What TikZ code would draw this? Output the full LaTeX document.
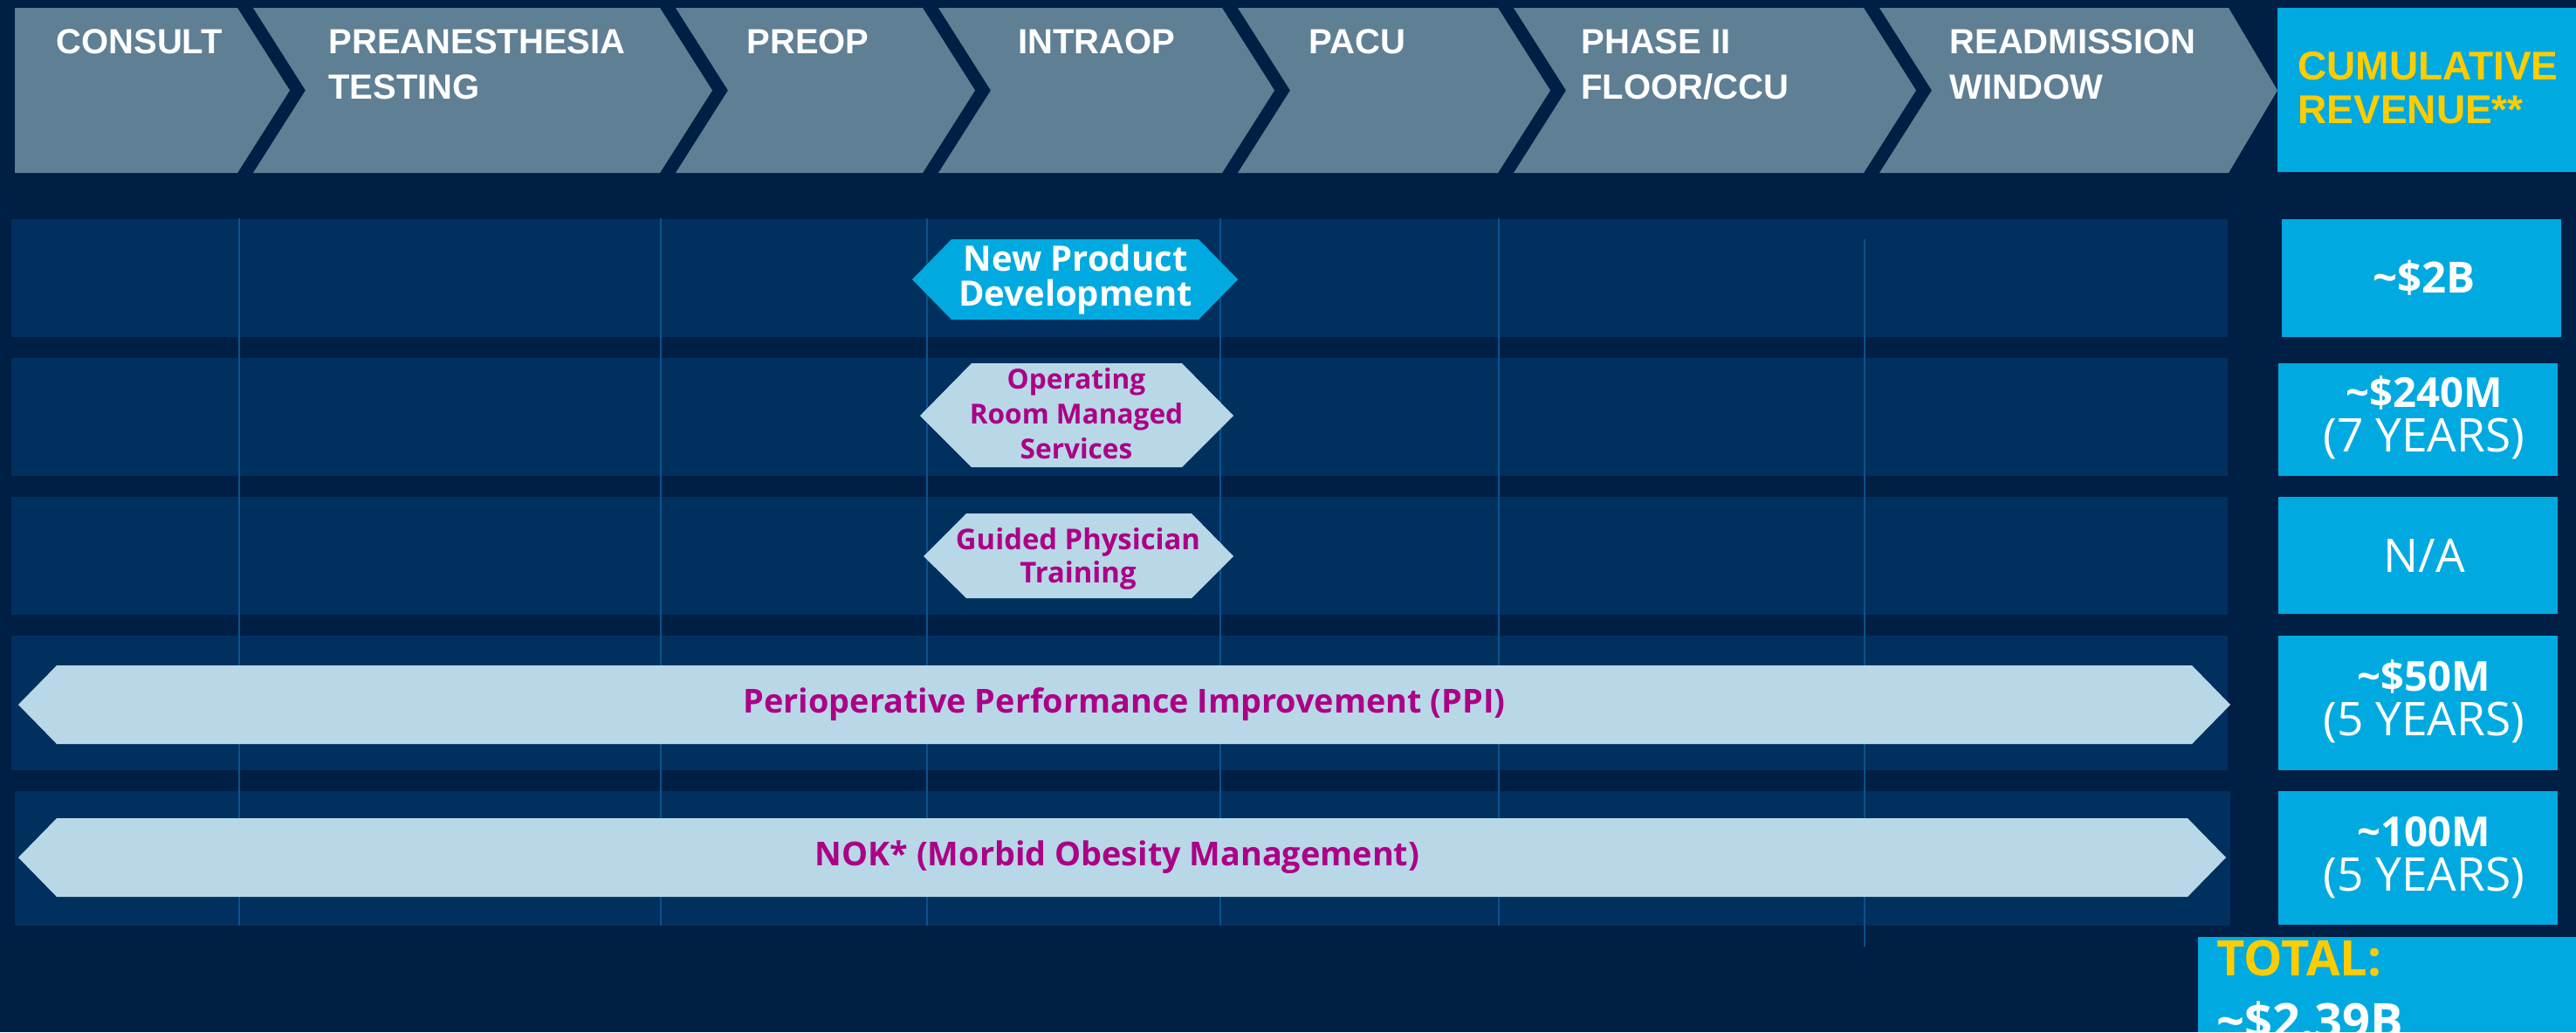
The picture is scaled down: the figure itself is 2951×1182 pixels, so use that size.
\documentclass[tikz,border=0pt]{standalone}
\usepackage{fontspec}
\setmainfont{Open Sans}
\newfontfamily\phasefont{Liberation Sans}
\newcommand\labelfont{\bfseries}

\definecolor{navybg}{RGB}{0,31,69}
\definecolor{rowblue}{RGB}{0,48,94}
\definecolor{chevgrey}{RGB}{94,127,148}
\definecolor{cyanbox}{RGB}{0,170,224}
\definecolor{paleblue}{RGB}{184,216,232}
\definecolor{plum}{RGB}{172,0,134}
\definecolor{gold}{RGB}{255,204,0}
\definecolor{gridblue}{RGB}{12,82,142}

\tikzset{every picture/.style={line width=0.75pt}}

\begin{document}
\begin{tikzpicture}[x=0.25pt,y=0.25pt,yscale=-1,xscale=1,
    chevron/.style={fill=chevgrey},
    band/.style={fill=rowblue},
    gridline/.style={draw=gridblue,line width=0.6pt},
    hexdark/.style={fill=cyanbox},
    hexlight/.style={fill=paleblue},
    revbox/.style={fill=cyanbox},
    phase/.style={anchor=north west,inner sep=0pt,align=left,text=white,font=\phasefont\fontsize{10}{13}\selectfont\bfseries},
    initiative/.style={inner sep=0pt,align=center,text=plum,font=\labelfont},
    revenue/.style={inner sep=0pt,align=center,text=white,font=\fontsize{13.3}{12.75}\selectfont}]

    \useasboundingbox (0,0) rectangle (2951,1182);
    %Shape: Rectangle [backdrop]
    \fill [navybg] (0,0) rectangle (2951,1182);

    %Shape: Chevrons [phase strip]
    \fill [chevron] (17,9) -- (272,9) -- (332,103.5) -- (272,198) -- (17,198) -- cycle ;
    \fill [chevron] (290,9) -- (756,9) -- (816,103.5) -- (756,198) -- (290,198) -- (350,103.5) -- cycle ;
    \fill [chevron] (774,9) -- (1057,9) -- (1117,103.5) -- (1057,198) -- (774,198) -- (834,103.5) -- cycle ;
    \fill [chevron] (1075,9) -- (1400,9) -- (1460,103.5) -- (1400,198) -- (1075,198) -- (1135,103.5) -- cycle ;
    \fill [chevron] (1418,9) -- (1716,9) -- (1776,103.5) -- (1716,198) -- (1418,198) -- (1478,103.5) -- cycle ;
    \fill [chevron] (1734,9) -- (2135,9) -- (2195,103.5) -- (2135,198) -- (1734,198) -- (1794,103.5) -- cycle ;
    \fill [chevron] (2153,9) -- (2553,9) -- (2609,103.5) -- (2553,198) -- (2153,198) -- (2213,103.5) -- cycle ;
    %Shape: Rectangle [revenue header]
    \fill [revbox] (2609,9) rectangle (2951,197) ;

    %Shape: Rectangles [rows]
    \fill [band] (13,251) rectangle (2552,386) ;
    \fill [band] (13,410) rectangle (2552,545) ;
    \fill [band] (13,569) rectangle (2552,704) ;
    \fill [band] (13,728) rectangle (2552,882) ;
    \fill [band] (17,906) rectangle (2555,1060) ;

    %Straight Lines [phase borders]
    \draw [gridline] (274,250) -- (274,1060) ;
    \draw [gridline] (757,250) -- (757,1060) ;
    \draw [gridline] (1062,250) -- (1062,1060) ;
    \draw [gridline] (1398,250) -- (1398,1060) ;
    \draw [gridline] (1717,250) -- (1717,1060) ;
    \draw [gridline] (2136,274) -- (2136,1084) ;

    %Shape: Hexagons [initiatives]
    \fill [hexdark] (1045,320) -- (1090,274) -- (1373,274) -- (1418,320) -- (1373,366) -- (1090,366) -- cycle ;
    \fill [hexlight] (1054,476) -- (1113,416) -- (1354,416) -- (1413,476) -- (1354,535) -- (1113,535) -- cycle ;
    \fill [hexlight] (1058,637) -- (1107,588) -- (1365,588) -- (1413,637) -- (1365,685) -- (1107,685) -- cycle ;
    \fill [hexlight] (21,807) -- (65,762) -- (2511,762) -- (2555,807) -- (2511,852) -- (65,852) -- cycle ;
    \fill [hexlight] (21,982) -- (65,937) -- (2506,937) -- (2550,982) -- (2506,1027) -- (65,1027) -- cycle ;

    %Shape: Rectangles [revenue]
    \fill [revbox] (2614,251) rectangle (2934,386) ;
    \fill [revbox] (2610,416) rectangle (2930,545) ;
    \fill [revbox] (2610,569) rectangle (2930,703) ;
    \fill [revbox] (2610,728) rectangle (2930,882) ;
    \fill [revbox] (2610,906) rectangle (2930,1059) ;

    % phase labels
    \node (consult) [phase] at (63,32) {CONSULT};
    \node (pretest) [phase] at (375,32) {PREANESTHESIA\\TESTING};
    \node (preop) [phase] at (854,32) {PREOP};
    \node (intraop) [phase] at (1165,32) {INTRAOP};
    \node (pacu) [phase] at (1498,32) {PACU};
    \node (floor) [phase] at (1810,32) {PHASE II\\FLOOR/CCU};
    \node (readmit) [phase] at (2232,32) {READMISSION\\WINDOW};
    \node (cumrev) [phase,text=gold,font=\phasefont\fontsize{11.5}{12.5}\selectfont\bfseries] at (2631,58) {CUMULATIVE\\REVENUE**};

    % initiative labels
    \node (npd) [initiative,text=white,font=\labelfont\fontsize{10}{9.8}\selectfont] at (1232,320) {New Product\\Development};
    \node (orms) [initiative,font=\labelfont\fontsize{7.9}{10}\selectfont] at (1233,474) {Operating\\Room Managed\\Services};
    \node (gpt) [initiative,font=\labelfont\fontsize{8.2}{9.5}\selectfont] at (1235,640) {Guided Physician\\Training};
    \node (ppi) [initiative,font=\labelfont\fontsize{9.45}{12}\selectfont] at (1288,807) {Perioperative Performance Improvement (PPI)};
    \node (nok) [initiative,font=\labelfont\fontsize{9.45}{12}\selectfont] at (1280,982) {NOK* (Morbid Obesity Management)};

    % revenue figures
    \node (rev1) [revenue] at (2777,318) {\fontsize{12.3}{12.75}\selectfont\bfseries\textasciitilde\$2B};
    \node (rev2) [revenue] at (2777,478) {{\fontsize{11.8}{12.75}\selectfont\bfseries\textasciitilde\$240M}\\(7 YEARS)};
    \node (rev3) [revenue] at (2777,636) {N/A};
    \node (rev4) [revenue] at (2777,803) {{\fontsize{11.8}{12.75}\selectfont\bfseries\textasciitilde\$50M}\\(5 YEARS)};
    \node (rev5) [revenue] at (2777,982) {{\fontsize{11.8}{12.75}\selectfont\bfseries\textasciitilde100M}\\(5 YEARS)};

    % total, cut off by the page edge
    \begin{scope}
      \clip (2518,1073) rectangle (2951,1182);
      \fill [revbox] (2518,1073) rectangle (2951,1182) ;
      \node (total) [phase,font=\fontsize{14}{18}\selectfont\bfseries] at (2538,1075) {\textcolor{gold}{TOTAL:}\\\textasciitilde\$2.39B};
    \end{scope}

\end{tikzpicture}
\end{document}
